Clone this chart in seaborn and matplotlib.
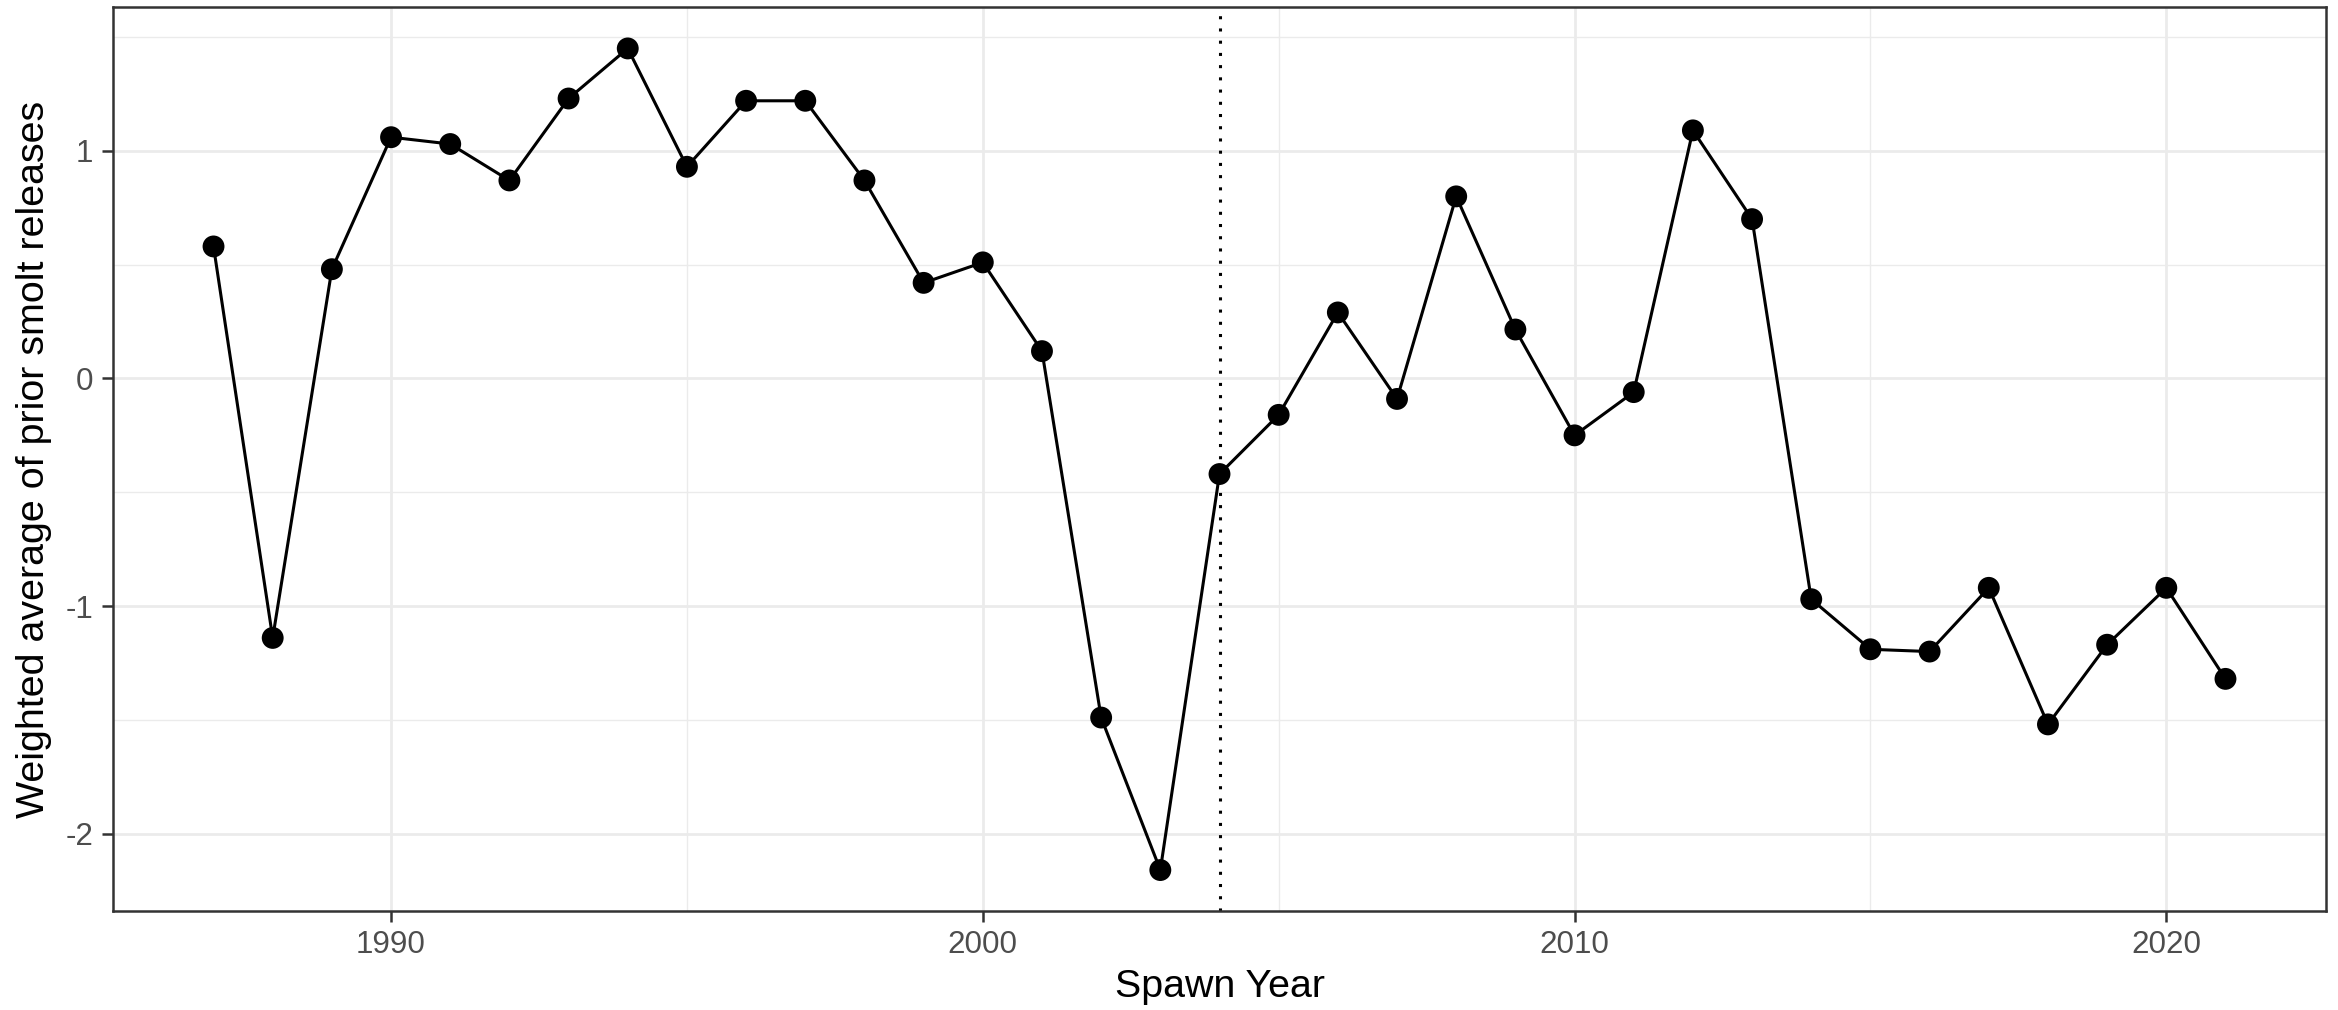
import numpy as np
import pandas as pd
import seaborn as sns
import matplotlib.pyplot as plt
from matplotlib.ticker import MultipleLocator

# spawn years and weighted average of prior smolt releases
years = list(range(1987, 2022))
values = [0.58, -1.14, 0.48, 1.06, 1.03, 0.87, 1.23, 1.45, 0.93, 1.22,
          1.22, 0.87, 0.42, 0.51, 0.12, -1.49, -2.16, -0.42, -0.16, 0.29,
          -0.09, 0.80, 0.215, -0.25, -0.06, 1.09, 0.70, -0.97, -1.19, -1.20,
          -0.92, -1.52, -1.17, -0.92, -1.32]
break_year = 2004

df = pd.DataFrame({"year": years, "value": values})

sns.set_style("white")
plt.rcParams["font.family"] = ["Liberation Sans", "DejaVu Sans"]

fig = plt.figure(figsize=(11.69, 5.05), dpi=200)
ax = fig.add_axes([0.0483, 0.0980, 0.9466, 0.8946])

sns.lineplot(data=df, x="year", y="value", color="black", lw=1.1, ax=ax, zorder=3)
sns.scatterplot(data=df, x="year", y="value", color="black", s=62, edgecolor="none",
                ax=ax, zorder=4)
ax.axvline(break_year, color="black", ls=(0, (1, 3)), lw=1.1, zorder=2)

# ggplot-like 5% expansion
ax.set_xlim(1985.3, 2022.7)
ax.set_ylim(-2.34, 1.63)
ax.xaxis.set_major_locator(MultipleLocator(10))
ax.xaxis.set_minor_locator(MultipleLocator(5))
ax.yaxis.set_minor_locator(MultipleLocator(0.5))
ax.set_yticks([-2, -1, 0, 1])
ax.set_yticklabels(["-2", "-1", "0", "1"])

ax.grid(which="major", color="#EBEBEB", lw=1.0, zorder=0)
ax.grid(which="minor", color="#EBEBEB", lw=0.5, zorder=0)
ax.set_axisbelow(True)
for s in ax.spines.values():
    s.set_color("#333333")
    s.set_linewidth(0.9)

ax.tick_params(which="major", length=4, width=0.9, color="#333333",
               labelsize=11.3, labelcolor="#4D4D4D", pad=3, left=True, bottom=True)
ax.tick_params(which="minor", length=0)
ax.set_xlabel("Spawn Year", fontsize=14.2, color="black", labelpad=3)
ax.set_ylabel("Weighted average of prior smolt releases", fontsize=14.2,
              color="black", labelpad=5)

fig.savefig("out.png", dpi=200)
